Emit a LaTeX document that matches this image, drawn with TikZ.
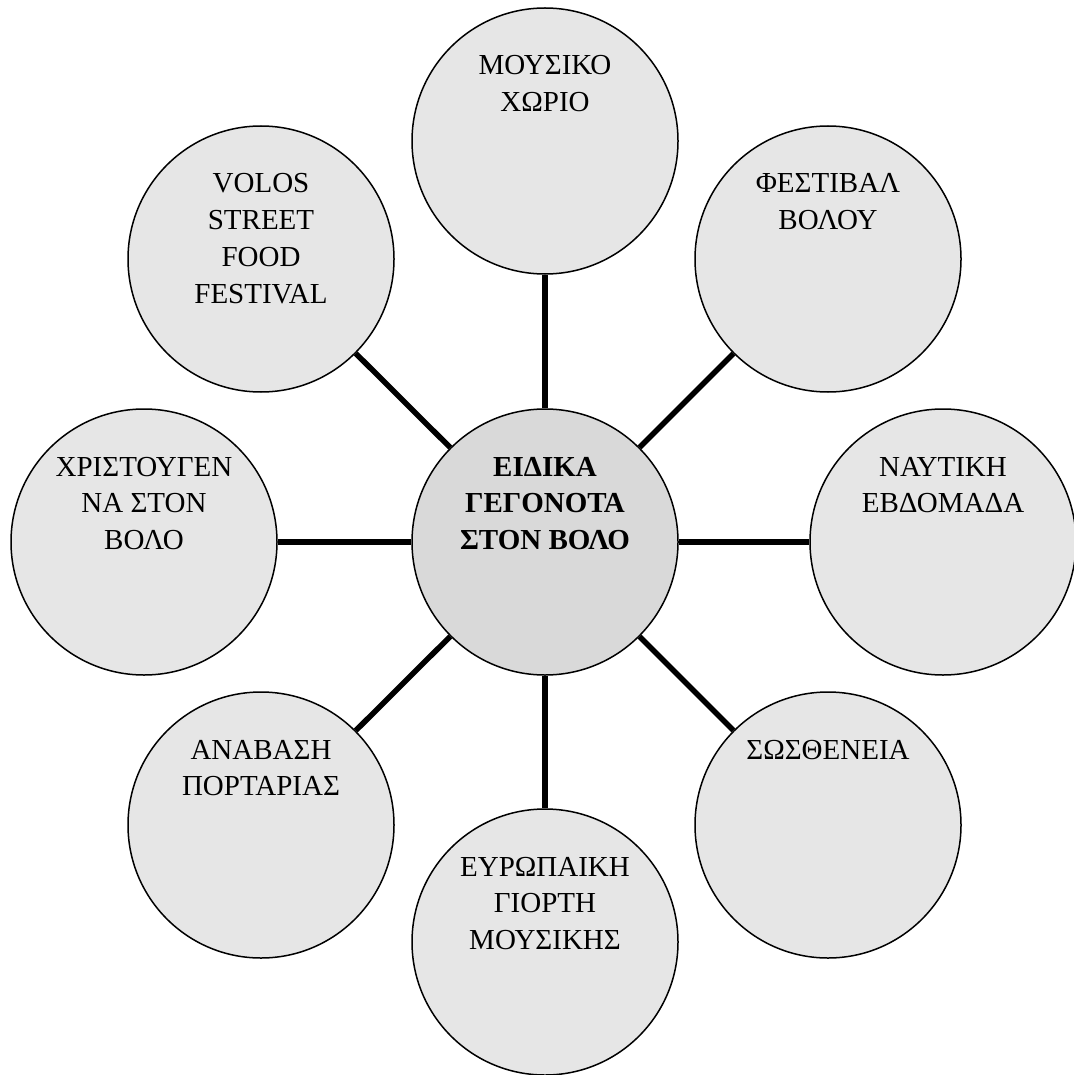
\documentclass[tikz,border=0pt]{standalone}
\usepackage{fontspec}
\setmainfont{Liberation Serif}
\definecolor{outerfill}{RGB}{230,230,230}
\definecolor{centerfill}{RGB}{217,217,217}
\newcommand{\stk}[1]{\begin{tabular}[t]{@{}c@{}}#1\end{tabular}}
\tikzset{
  bubble/.style={circle, draw=black, line width=1.5pt, fill=outerfill, minimum size=266pt, inner sep=0pt},
  hub/.style={bubble, fill=centerfill},
  bubbletext/.style={inner sep=0pt, anchor=base, font=\fontsize{29}{36.7}\selectfont},
  spoke/.style={line width=5.5pt},
}
\begin{document}
\begin{tikzpicture}[x=1pt,y=-1pt]
\useasboundingbox (0,0) rectangle (1073,1075);
% spokes drawn first (behind circles)
\coordinate (pc) at (545,542);
\node[hub] (c) at (545,542) {};
\node[bubble] (n) at (545,141) {};
\node[bubble] (ne) at (828,259) {};
\node[bubble] (e) at (943,542) {};
\node[bubble] (se) at (828,825) {};
\node[bubble] (s) at (545,942) {};
\node[bubble] (sw) at (261,825) {};
\node[bubble] (w) at (144,542) {};
\node[bubble] (nw) at (261,259) {};
\foreach \t in {n,ne,e,se,s,sw,w,nw}{\draw[spoke] (c) -- (\t);}
\node[bubbletext] (tc) at (545,476) {\bfseries\stk{ΕΙΔΙΚΑ\\ΓΕΓΟΝΟΤΑ\\ΣΤΟΝ ΒΟΛΟ}};
\node[bubbletext] (tn) at (545,75) {\stk{ΜΟΥΣΙΚΟ\\ΧΩΡΙΟ}};
\node[bubbletext] (tne) at (828,193) {\stk{ΦΕΣΤΙΒΑΛ\\ΒΟΛΟΥ}};
\node[bubbletext] (te) at (943,476) {\stk{ΝΑΥΤΙΚΗ\\ΕΒΔΟΜΑΔΑ}};
\node[bubbletext] (tse) at (828,759) {\stk{ΣΩΣΘΕΝΕΙΑ}};
\node[bubbletext] (ts) at (545,876) {\stk{ΕΥΡΩΠΑΙΚΗ\\ΓΙΟΡΤΗ\\ΜΟΥΣΙΚΗΣ}};
\node[bubbletext] (tsw) at (261,759) {\stk{ΑΝΑΒΑΣΗ\\ΠΟΡΤΑΡΙΑΣ}};
\node[bubbletext] (tw) at (144,476) {\stk{ΧΡΙΣΤΟΥΓΕΝ\\ΝΑ ΣΤΟΝ\\ΒΟΛΟ}};
\node[bubbletext] (tnw) at (261,193) {\stk{VOLOS\\STREET\\FOOD\\FESTIVAL}};
\end{tikzpicture}
\end{document}
